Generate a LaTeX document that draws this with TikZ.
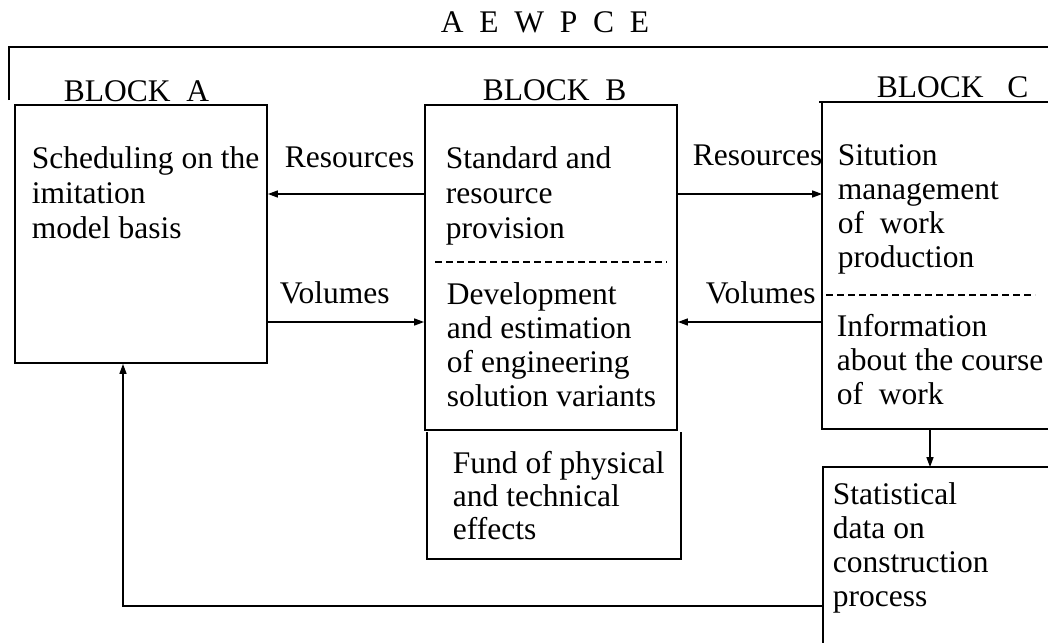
\documentclass[tikz,border=0pt]{standalone}
\usepackage{fontspec}
\setmainfont{Liberation Serif}
\usetikzlibrary{arrows.meta,calc}
\begin{document}
\begin{tikzpicture}[x=1pt,y=-1pt,
  font=\fontsize{31.5}{35}\selectfont,
  line width=1.8pt,
  boxshape/.style={draw, rectangle, inner sep=0pt},
  frameshape/.style={rectangle, inner sep=0pt},
  txt/.style={anchor=north west, align=left, inner sep=0pt},
  lbl/.style={anchor=base west, inner sep=0pt},
  arr/.style={line width=1.5pt, -{Triangle[length=10pt,width=7pt]}},
  sep/.style={line width=1.4pt, dash pattern=on 7pt off 4pt}]
\path[use as bounding box, fill=white] (0,0) rectangle (1048,642);

% title and frame
\node[inner sep=0pt, anchor=base] (T) at (545,33) {A~~E~~W~~P~~C~~E};
\draw (9,100) |- (1052,47);

% block labels
\node[lbl] (LA) at (63,101) {BLOCK~~A};
\node[lbl] (LB) at (482,100) {BLOCK~~B};
\node[lbl] (LC) at (876,97) {BLOCK~~~C};

% boxes
\node[boxshape, minimum width=252pt, minimum height=258pt] (A) at (141,234) {};
\node[boxshape, minimum width=252pt, minimum height=325pt] (B) at (551,267.5) {};
\node[frameshape, minimum width=252pt, minimum height=125pt] (F) at (554,495.5) {};
\draw (F.north west) -- (F.south west) -- (F.south east) -- (F.north east);
\node[frameshape, minimum width=229pt, minimum height=325pt] (C) at (937.5,265.5) {};
\draw (C.north east) -- ($(C.north west)+(-3,0)$);
\draw (C.north west) -- (C.south west) -- (C.south east);
\node[frameshape, minimum width=228pt, minimum height=192pt] (S) at (938,564) {};
\draw (S.north east) -- (S.north west) -- (S.south west);

% separators
\draw[sep] (435,262) -- (667,262);
\draw[sep] (826,295) -- (1035,295);

% texts
\node[txt] (ta) at (31,145.5) {Scheduling on the\\imitation\\model basis};
\node[txt] (tb1) at (445,145.5) {Standard and\\resource\\provision};
\node[txt, font=\fontsize{31.5}{34}\selectfont] (tb2) at (446,281.5) {Development\\and estimation\\of engineering\\solution variants};
\node[txt, font=\fontsize{31.5}{33}\selectfont] (tf) at (452,450.5) {Fund of physical\\and technical\\effects};
\node[txt, font=\fontsize{31.5}{34}\selectfont] (tc1) at (837,143.5) {Sitution\\management\\of~ work\\production};
\node[txt, font=\fontsize{31.5}{34}\selectfont] (tc2) at (836,313.5) {Information\\about the course\\of~ work};
\node[txt, font=\fontsize{31.5}{34}\selectfont] (ts) at (832,481.5) {Statistical\\data on\\construction\\process};

% arrow labels
\node[lbl] (r1) at (284,167) {Resources};
\node[lbl] (v1) at (279,303) {Volumes};
\node[lbl] (r2) at (692,165) {Resources};
\node[lbl] (v2) at (705,303) {Volumes};

% connectors
\coordinate (yR) at (0,194);
\coordinate (yV) at (0,322);
\coordinate (xCS) at (930,0);
\coordinate (fb) at (123,606);
\draw[arr] (B.west |- yR) -- (A.east |- yR);
\draw[arr] (A.east |- yV) -- (B.west |- yV);
\draw[arr] (B.east |- yR) -- (C.west |- yR);
\draw[arr] (C.west |- yV) -- (B.east |- yV);
\draw[arr] (C.south -| xCS) -- (S.north -| xCS);
\draw[arr] (S.west |- fb) -| (A.south -| fb);
\end{tikzpicture}
\end{document}
